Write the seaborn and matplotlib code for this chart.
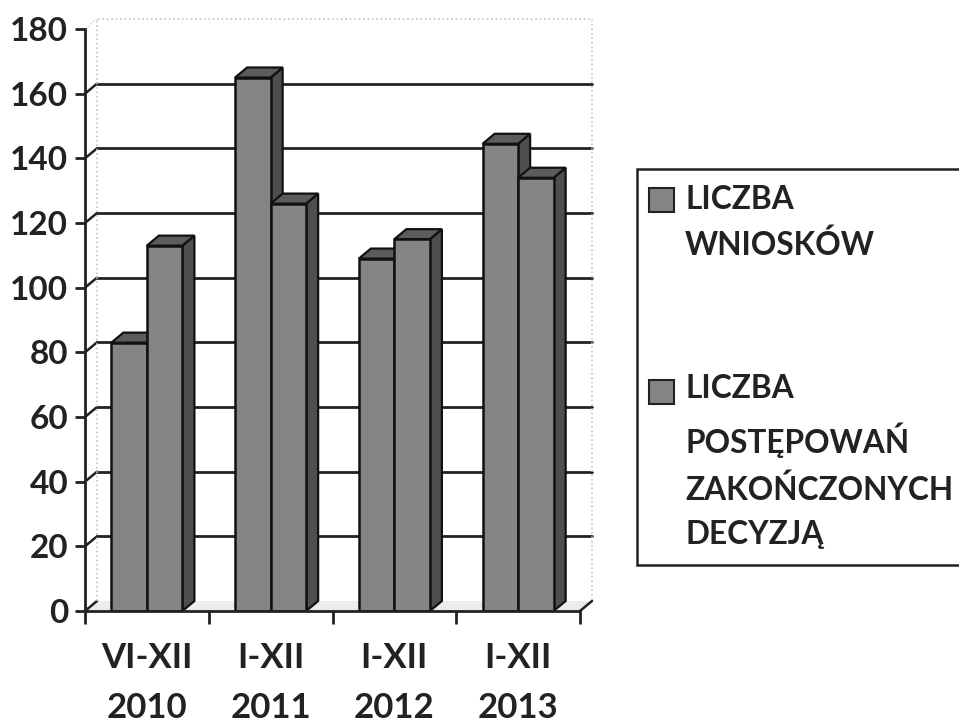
import matplotlib
matplotlib.use("Agg")
import matplotlib.pyplot as plt
from matplotlib.legend_handler import HandlerPatch
from matplotlib.patches import Patch, Polygon, Rectangle
import numpy as np
import pandas as pd
import seaborn as sns

# values
periods = ["VI-XII\n2010", "I-XII\n2011", "I-XII\n2012", "I-XII\n2013"]
wnioski = [83, 165, 109, 144.5]
decyzje = [113, 126, 115, 134]
series_names = ["LICZBA\nWNIOSKÓW", "LICZBA\nPOSTĘPOWAŃ\nZAKOŃCZONYCH\nDECYZJĄ"]
y_ticks = [0, 20, 40, 60, 80, 100, 120, 140, 160, 180]

W, H = 959, 723
FRONT, SIDE, TOP = "#858585", "#4e4e4e", "#5c5c5c"

sns.set_theme(style="white")
plt.rcParams["font.family"] = ["Lato", "DejaVu Sans"]

df = pd.DataFrame({
    "period": periods * 2,
    "value": wnioski + decyzje,
    "series": [series_names[0]] * 4 + [series_names[1]] * 4,
})

fig = plt.figure(figsize=(W / 100, H / 100), dpi=100)
ax = fig.add_axes([85 / W, 1 - 611 / H, 495 / W, 582 / H])

sns.barplot(data=df, x="period", y="value", hue="series", hue_order=series_names,
            width=0.574, gap=0, palette=[FRONT, FRONT], legend=False, ax=ax,
            edgecolor="#111111", linewidth=1.8, saturation=1)

ax.set_xlim(-0.5, 3.5)
ax.set_ylim(0, 180)
ax.set_xlabel("")
ax.set_ylabel("")

# seaborn's bars, taken before any extra patches go on the axes
bars = sorted([p for p in ax.patches if isinstance(p, Rectangle) and p.get_height() > 0],
              key=lambda p: p.get_x())

# depth of the fake 3D box, 12 px across and 10 px up
dx = 12 * 4 / 495
dy = 10 * 180 / 582

# back wall grid
for v in y_ticks[1:-1]:
    ax.plot([-0.5 + dx, 3.5 + dx], [v + dy, v + dy], color="#222222", lw=2, zorder=1, clip_on=False)
for v in y_ticks[:-1]:
    ax.plot([-0.5, -0.5 + dx], [v, v + dy], color="#222222", lw=1.8, zorder=1, clip_on=False)
ax.plot([-0.5, -0.5 + dx], [180, 180 + dy], color="#cccccc", lw=1, ls=":", clip_on=False)
ax.plot([-0.5 + dx, -0.5 + dx, 3.5 + dx, 3.5 + dx], [dy, 180 + dy, 180 + dy, dy],
        color="#c4c4c4", lw=1.2, ls=":", zorder=1, clip_on=False)
ax.plot([3.5, 3.5 + dx], [0, dy], color="#222222", lw=1.8, zorder=1, clip_on=False)
ax.add_patch(Polygon([(-0.5, 0), (3.5, 0), (3.5 + dx, dy), (-0.5 + dx, dy)],
                     facecolor="#ececec", edgecolor="none", zorder=0.5, clip_on=False))

# extrude the bars, left to right so that neighbours overlap properly
for i, bar in enumerate(bars):
    x0, x1 = bar.get_x(), bar.get_x() + bar.get_width()
    h = bar.get_height()
    z = 3 + i
    ax.add_patch(Polygon([(x1, 0), (x1 + dx, dy), (x1 + dx, h + dy), (x1, h)], facecolor=SIDE,
                         edgecolor="#111111", lw=1.6, zorder=z, clip_on=False))
    ax.add_patch(Polygon([(x0, h), (x0 + dx, h + dy), (x1 + dx, h + dy), (x1, h)], facecolor=TOP,
                         edgecolor="#111111", lw=1.6, zorder=z, clip_on=False))
    bar.set_zorder(z + 0.5)

sns.despine(ax=ax)
for s in ["left", "bottom"]:
    ax.spines[s].set_color("#222222")
    ax.spines[s].set_linewidth(2)
    ax.spines[s].set_zorder(20)

ax.set_yticks(y_ticks)
ax.set_xticks(range(4))
ax.set_xticklabels(periods, linespacing=1.72)
ax.set_xticks(np.arange(-0.5, 4), minor=True)
ax.tick_params(axis="y", left=True, length=7, width=2, color="#222222", pad=5,
               labelsize=24, labelcolor="#222222")
ax.tick_params(axis="x", which="major", bottom=False, length=0, pad=22,
               labelsize=25, labelcolor="#222222")
ax.tick_params(axis="x", which="minor", bottom=True, length=9, width=2, color="#222222")
for lab in ax.get_xticklabels() + ax.get_yticklabels():
    lab.set_fontweight("bold")


# legend squares sit at the first text line, not the middle of the entry
def first_line_patch(shift_px):
    def make(legend, orig_handle, xdescent, ydescent, width, height, fontsize):
        return Rectangle((-xdescent - 4 * 0.72, -ydescent + shift_px * 0.72), width, height)
    return HandlerPatch(patch_func=make)


handles = [Patch(facecolor=FRONT, edgecolor="#222222", linewidth=1.5) for _ in series_names]
leg = ax.legend(handles, series_names, loc="upper left", bbox_to_anchor=(637 / W, 1 - 169 / H),
                bbox_transform=fig.transFigure, frameon=True, fancybox=False, framealpha=1,
                edgecolor="#222222", prop={"size": 22.8, "weight": "bold"}, labelspacing=3.6,
                handlelength=0.79, handleheight=0.79, handletextpad=0.23, borderpad=0.5, borderaxespad=0,
                handler_map={handles[0]: first_line_patch(24), handles[1]: first_line_patch(71)})
leg.get_frame().set_linewidth(1.8)
leg.set_zorder(30)
for t in leg.get_texts():
    t.set_linespacing(1.63)
    t.set_color("#222222")

fig.savefig("out.png", dpi=100)
